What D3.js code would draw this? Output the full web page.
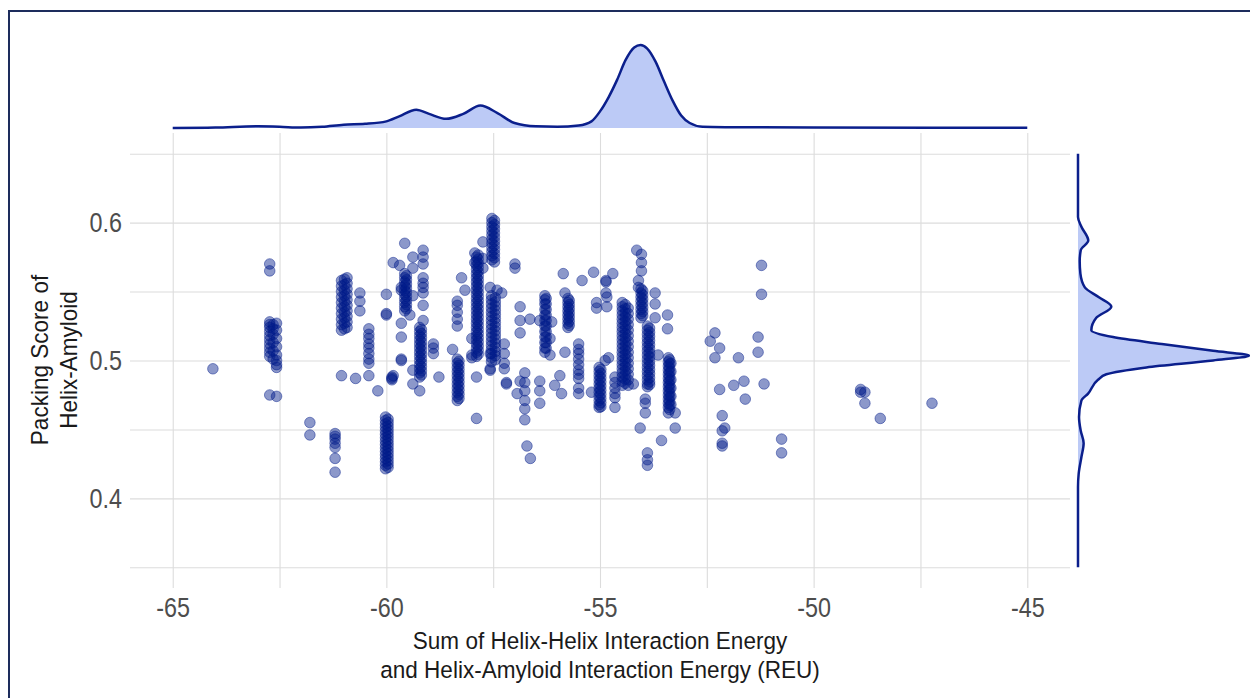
<!DOCTYPE html>
<html>
<head>
<meta charset="utf-8">
<script src="https://cdn.jsdelivr.net/npm/d3@7"></script>
<style>
  body { margin: 0; background: #fff; }
  svg { display: block; }
  text { font-family: "Liberation Sans", Arial, sans-serif; }
</style>
</head>
<body>
<svg id="chart"></svg>
<script>
const WIDTH = 1250;
const HEIGHT = 698;
const NARROW_TICK = 0.82;  // horizontal squeeze to imitate a narrow face
const NARROW_TITLE = 0.92;

// axis breaks
const X_TICKS = [-65, -60, -55, -50, -45];
const X_GRID = [-65, -62.5, -60, -57.5, -55, -52.5, -50, -47.5, -45];
const Y_TICKS = [0.4, 0.5, 0.6];
const Y_GRID = [0.35, 0.4, 0.45, 0.5, 0.55, 0.6, 0.65];

// scatter points, grouped by energy value: [energy, [packing scores]]
const columns = [
  [-64.06, [0.494]],
  [-62.73, [0.570, 0.565, 0.528, 0.526, 0.524, 0.521, 0.518, 0.515, 0.512, 0.509, 0.506, 0.503, 0.475]],
  [-62.65, [0.526, 0.523, 0.519, 0.513, 0.507, 0.501]],
  [-62.57, [0.527, 0.522, 0.516, 0.510, 0.504, 0.500, 0.497, 0.495, 0.474]],
  [-61.79, [0.455, 0.446]],
  [-61.2, [0.447, 0.445, 0.443, 0.440, 0.437, 0.429, 0.419]],
  [-61.05, [0.558, 0.554, 0.550, 0.546, 0.542, 0.538, 0.534, 0.530, 0.526, 0.522, 0.489]],
  [-60.98, [0.559, 0.555, 0.551, 0.547, 0.543, 0.539, 0.535, 0.531, 0.527, 0.523]],
  [-60.92, [0.560, 0.556, 0.552, 0.548, 0.544, 0.540, 0.536, 0.532, 0.528, 0.524]],
  [-60.72, [0.487]],
  [-60.62, [0.549, 0.543, 0.536]],
  [-60.41, [0.523, 0.519, 0.516, 0.512, 0.509, 0.505, 0.501, 0.498, 0.489]],
  [-60.2, [0.478]],
  [-60.02, [0.459, 0.4565, 0.454, 0.4515, 0.449, 0.4465, 0.444, 0.4415, 0.439, 0.4365, 0.434, 0.4315, 0.429, 0.4265, 0.424, 0.4215]],
  [-59.96, [0.4575, 0.455, 0.4525, 0.450, 0.4475, 0.445, 0.4425, 0.440, 0.4375, 0.435, 0.4325, 0.430, 0.4275, 0.425, 0.4225]],
  [-60.0, [0.548, 0.534, 0.533]],
  [-59.87, [0.488, 0.487, 0.486]],
  [-59.84, [0.571, 0.489]],
  [-59.69, [0.569]],
  [-59.65, [0.553, 0.551, 0.527, 0.517, 0.501, 0.500]],
  [-59.57, [0.585, 0.563, 0.560, 0.557, 0.554, 0.551, 0.548, 0.545, 0.542, 0.539, 0.536]],
  [-59.53, [0.5615, 0.5585, 0.5555, 0.5525, 0.5495, 0.5465, 0.5435, 0.5405, 0.5375]],
  [-59.45, [0.533]],
  [-59.38, [0.575, 0.567, 0.547, 0.493, 0.483]],
  [-59.14, [0.580, 0.575, 0.570, 0.560, 0.556, 0.553, 0.549, 0.540, 0.529]],
  [-59.22, [0.524, 0.521, 0.518, 0.515, 0.512, 0.509, 0.506, 0.503, 0.500, 0.497, 0.494, 0.491, 0.488, 0.478]],
  [-59.18, [0.5225, 0.5195, 0.5165, 0.5135, 0.5105, 0.5075, 0.5045, 0.5015, 0.4985, 0.4955, 0.4925, 0.4895]],
  [-58.9, [0.512, 0.509, 0.505]],
  [-58.77, [0.488]],
  [-58.45, [0.508]],
  [-58.34, [0.543, 0.540, 0.535, 0.530, 0.525, 0.501, 0.498, 0.495, 0.492, 0.489, 0.486, 0.483, 0.480, 0.477, 0.474, 0.471]],
  [-58.3, [0.4995, 0.4965, 0.4935, 0.4905, 0.4875, 0.4845, 0.4815, 0.4785, 0.4755, 0.4725]],
  [-58.24, [0.560]],
  [-58.16, [0.551]],
  [-58.0, [0.516, 0.504, 0.502]],
  [-57.93, [0.571, 0.578]],
  [-57.89, [0.575, 0.572, 0.569, 0.566, 0.563, 0.560, 0.557, 0.554, 0.551, 0.548, 0.545, 0.542, 0.539, 0.536, 0.533, 0.530, 0.527, 0.524, 0.521, 0.518, 0.515, 0.512, 0.509, 0.506, 0.503, 0.488, 0.458]],
  [-57.85, [0.5765, 0.5735, 0.5705, 0.5675, 0.5645, 0.5615, 0.5585, 0.5555, 0.5525, 0.5495, 0.5465, 0.5435, 0.5405, 0.5375, 0.5345, 0.5315, 0.5285, 0.5255, 0.5225, 0.5195, 0.5165, 0.5135, 0.5105, 0.5075, 0.5045]],
  [-57.74, [0.586, 0.574, 0.567]],
  [-57.53, [0.603, 0.600, 0.597, 0.594, 0.591, 0.588, 0.585, 0.582, 0.579, 0.576, 0.573]],
  [-57.47, [0.6015, 0.5985, 0.5955, 0.5925, 0.5895, 0.5865, 0.5835, 0.5805, 0.5775, 0.5745, 0.5715]],
  [-57.54, [0.547, 0.544, 0.541, 0.538, 0.535, 0.532, 0.529, 0.526, 0.523, 0.520, 0.517, 0.514, 0.511, 0.508, 0.505, 0.502, 0.499]],
  [-57.45, [0.5455, 0.5425, 0.5395, 0.5365, 0.5335, 0.5305, 0.5275, 0.5245, 0.5215, 0.5185, 0.5155, 0.5125, 0.5095, 0.5065, 0.5035, 0.5005]],
  [-57.57, [0.553, 0.505, 0.494, 0.493]],
  [-57.41, [0.551]],
  [-57.3, [0.549]],
  [-57.24, [0.512, 0.505, 0.498, 0.494]],
  [-57.19, [0.484, 0.483]],
  [-56.99, [0.570, 0.567]],
  [-56.87, [0.539, 0.529, 0.520, 0.485]],
  [-56.94, [0.476]],
  [-56.64, [0.530]],
  [-56.76, [0.491, 0.484, 0.478, 0.471, 0.465, 0.457]],
  [-56.71, [0.438]],
  [-56.63, [0.429]],
  [-56.41, [0.529, 0.485, 0.478, 0.469]],
  [-56.29, [0.547, 0.544, 0.541, 0.537, 0.533, 0.529, 0.525, 0.521, 0.517, 0.513, 0.509, 0.506]],
  [-56.26, [0.545, 0.541, 0.537, 0.533, 0.529, 0.525, 0.521, 0.517, 0.513, 0.509]],
  [-56.17, [0.516, 0.504]],
  [-56.13, [0.528]],
  [-56.06, [0.482]],
  [-55.94, [0.489]],
  [-55.9, [0.476]],
  [-55.86, [0.563]],
  [-55.82, [0.549, 0.506]],
  [-55.75, [0.545, 0.542, 0.539, 0.536, 0.533, 0.530, 0.527, 0.524]],
  [-55.72, [0.5435, 0.5405, 0.5375, 0.5345, 0.5315, 0.5285, 0.5255]],
  [-55.5, [0.512, 0.508, 0.505, 0.501, 0.497, 0.493, 0.490, 0.487, 0.480, 0.476]],
  [-55.42, [0.558]],
  [-55.2, [0.477]],
  [-55.15, [0.564]],
  [-55.08, [0.542, 0.538]],
  [-55.02, [0.495, 0.492, 0.489, 0.486, 0.483, 0.480, 0.477, 0.474, 0.471, 0.468, 0.466]],
  [-54.98, [0.4935, 0.4905, 0.4875, 0.4845, 0.4815, 0.4785, 0.4755, 0.4725, 0.4695, 0.4665]],
  [-54.84, [0.546, 0.539]],
  [-54.88, [0.500]],
  [-54.8, [0.502]],
  [-54.86, [0.558, 0.557, 0.549]],
  [-54.7, [0.563]],
  [-54.65, [0.488, 0.484, 0.480, 0.476, 0.473, 0.466]],
  [-54.48, [0.542, 0.539, 0.536, 0.533, 0.530, 0.527, 0.524, 0.521, 0.518, 0.515, 0.512, 0.509, 0.506, 0.503, 0.500, 0.497, 0.494, 0.491, 0.488, 0.485, 0.482]],
  [-54.41, [0.5405, 0.5375, 0.5345, 0.5315, 0.5285, 0.5255, 0.5225, 0.5195, 0.5165, 0.5135, 0.5105, 0.5075, 0.5045, 0.5015, 0.4985, 0.4955, 0.4925, 0.4895, 0.4865, 0.4835]],
  [-54.34, [0.538, 0.534, 0.530, 0.526, 0.522, 0.518, 0.514, 0.510, 0.506, 0.502, 0.498, 0.494, 0.490, 0.486, 0.482]],
  [-54.22, [0.483]],
  [-54.14, [0.580]],
  [-54.1, [0.558, 0.553]],
  [-54.06, [0.451]],
  [-54.03, [0.577, 0.571, 0.565]],
  [-54.04, [0.552, 0.549, 0.546, 0.543, 0.540, 0.537, 0.534, 0.531]],
  [-54.0, [0.5505, 0.5475, 0.5445, 0.5415, 0.5385, 0.5355, 0.5325]],
  [-53.94, [0.472, 0.469, 0.462]],
  [-53.89, [0.525, 0.522, 0.519, 0.516, 0.513, 0.510, 0.507, 0.504, 0.501, 0.498, 0.495, 0.492, 0.489, 0.486, 0.483, 0.481]],
  [-53.84, [0.5235, 0.5205, 0.5175, 0.5145, 0.5115, 0.5085, 0.5055, 0.5025, 0.4995, 0.4965, 0.4935, 0.4905, 0.4875, 0.4845, 0.4825]],
  [-53.89, [0.433, 0.428, 0.424]],
  [-53.71, [0.549, 0.541, 0.531]],
  [-53.64, [0.504]],
  [-53.56, [0.442]],
  [-53.42, [0.533, 0.523]],
  [-53.4, [0.502, 0.499, 0.496, 0.493, 0.490, 0.487, 0.484, 0.481, 0.478, 0.475, 0.472, 0.469, 0.466, 0.462]],
  [-53.37, [0.5005, 0.4975, 0.4945, 0.4915, 0.4885, 0.4855, 0.4825, 0.4795, 0.4765, 0.4735, 0.4705, 0.4675, 0.4645]],
  [-53.34, [0.498, 0.492, 0.486, 0.480, 0.474, 0.468]],
  [-53.24, [0.462, 0.451]],
  [-52.42, [0.514]],
  [-52.31, [0.520, 0.502]],
  [-52.2, [0.509, 0.479]],
  [-52.14, [0.460, 0.449, 0.440, 0.438]],
  [-52.08, [0.451]],
  [-51.87, [0.482]],
  [-51.76, [0.502]],
  [-51.63, [0.485]],
  [-51.6, [0.472]],
  [-51.3, [0.517, 0.506]],
  [-51.22, [0.569, 0.548]],
  [-51.16, [0.483]],
  [-50.75, [0.443, 0.433]],
  [-48.9, [0.479, 0.477]],
  [-48.8, [0.477, 0.469]],
  [-48.44, [0.458]],
  [-47.23, [0.469]]
];

// top marginal density (relative height) read along energy
const topDensX = [-65, -64, -63, -62.5, -62, -61.5, -61, -60.5, -60, -59.7, -59.3, -59, -58.6, -58.2, -57.8, -57.4, -57, -56.5, -56, -55.5, -55.2, -55, -54.8, -54.6, -54.4, -54.2, -54.05, -53.9, -53.7, -53.5, -53.3, -53.1, -52.9, -52.6, -52, -50, -47, -45];
const topDensY = [0, 0.005, 0.02, 0.015, 0.005, 0.015, 0.04, 0.05, 0.08, 0.14, 0.22, 0.17, 0.11, 0.17, 0.27, 0.18, 0.06, 0.02, 0.015, 0.03, 0.08, 0.2, 0.37, 0.58, 0.82, 0.97, 1, 0.96, 0.8, 0.56, 0.33, 0.15, 0.06, 0.015, 0.01, 0.005, 0.004, 0.002];

// right marginal density (relative width) read along packing score
const rightDensY = [0.35, 0.408, 0.418, 0.43, 0.44, 0.449, 0.459, 0.471, 0.476, 0.486, 0.49, 0.495, 0.5, 0.5036, 0.507, 0.512, 0.517, 0.522, 0.531, 0.539, 0.546, 0.553, 0.563, 0.572, 0.58, 0.587, 0.597, 0.604, 0.65];
const rightDensV = [0, 0, 0.004, 0.02, 0.033, 0.016, 0.006, 0.02, 0.059, 0.117, 0.166, 0.4, 0.79, 1, 0.79, 0.49, 0.205, 0.078, 0.107, 0.195, 0.12, 0.04, 0.014, 0.01, 0.016, 0.06, 0.02, 0, 0];

const POINT_COLOR = "#001a8a";
const DENS_STROKE = "#0b1f8c";
const DENS_FILL = "#bccaf6";

const panel = { left: 130, right: 1070, top: 133, bottom: 588 };

const $svg = d3.select("#chart").attr("width", WIDTH).attr("height", HEIGHT);

const x = d3.scaleLinear().domain([-66, -44]).range([panel.left, panel.right]);
const y = d3.scaleLinear().domain([0.335, 0.665]).range([panel.bottom, panel.top]);
const topH = d3.scaleLinear().domain([0, 1]).range([128, 45]);
const rightW = d3.scaleLinear().domain([0, 1]).range([1078, 1249]);

// frame
$svg.append("rect")
  .attr("x", 9).attr("y", 11)
  .attr("width", 1270).attr("height", 720)
  .attr("fill", "none")
  .attr("stroke", "#1d2c5c")
  .attr("stroke-width", 2);

// grid
const gridX = $svg.append("g")
  .attr("transform", `translate(0,${panel.bottom})`)
  .call(d3.axisBottom(x).tickValues(X_GRID).tickSize(-(panel.bottom - panel.top)).tickFormat(""));
const gridY = $svg.append("g")
  .attr("transform", `translate(${panel.left},0)`)
  .call(d3.axisLeft(y).tickValues(Y_GRID).tickSize(-(panel.right - panel.left)).tickFormat(""));
[gridX, gridY].forEach(g => {
  g.select(".domain").remove();
  g.selectAll("line").attr("stroke", "#dcdcdc").attr("stroke-width", 1.1);
});

// tick labels
const axX = $svg.append("g")
  .attr("transform", `translate(0,${panel.bottom})`)
  .call(d3.axisBottom(x).tickValues(X_TICKS).tickSize(0).tickPadding(9).tickFormat(d => String(d)));
const axY = $svg.append("g")
  .attr("transform", `translate(${panel.left},0)`)
  .call(d3.axisLeft(y).tickValues(Y_TICKS).tickSize(0).tickPadding(9.8).tickFormat(d => String(d)));
[axX, axY].forEach(g => {
  g.select(".domain").remove();
  g.attr("font-family", null).attr("font-size", null);
  g.selectAll("text")
    .attr("fill", "#4d4d4d")
    .attr("transform", `scale(${NARROW_TICK},1)`)
    .style("font-size", "28.5px");
});

// points
const points = columns.flatMap(([e, ys]) => ys.map(p => ({ e, p })));
$svg.append("g")
  .selectAll("circle")
  .data(points)
  .enter()
  .append("circle")
  .attr("cx", d => x(d.e))
  .attr("cy", d => y(d.p))
  .attr("r", 5.3)
  .attr("fill", POINT_COLOR)
  .attr("fill-opacity", 0.45)
  .attr("stroke", POINT_COLOR)
  .attr("stroke-opacity", 0.45)
  .attr("stroke-width", 1);

// top density
const topData = topDensX.map((e, i) => [e, topDensY[i]]);
$svg.append("path")
  .datum(topData)
  .attr("fill", DENS_FILL)
  .attr("d", d3.area().x(d => x(d[0])).y0(topH(0)).y1(d => topH(d[1])).curve(d3.curveMonotoneX));
$svg.append("path")
  .datum(topData)
  .attr("fill", "none")
  .attr("stroke", DENS_STROKE)
  .attr("stroke-width", 2.5)
  .attr("d", d3.line().x(d => x(d[0])).y(d => topH(d[1])).curve(d3.curveMonotoneX));

// right density
const rightData = rightDensY.map((p, i) => [p, rightDensV[i]]);
$svg.append("path")
  .datum(rightData)
  .attr("fill", DENS_FILL)
  .attr("d", d3.area().y(d => y(d[0])).x0(rightW(0)).x1(d => rightW(d[1])).curve(d3.curveMonotoneY));
$svg.append("path")
  .datum(rightData)
  .attr("fill", "none")
  .attr("stroke", DENS_STROKE)
  .attr("stroke-width", 2.5)
  .attr("d", d3.line().y(d => y(d[0])).x(d => rightW(d[1])).curve(d3.curveMonotoneY));

// axis titles
const xTitle = $svg.append("text")
  .attr("transform", `translate(600,0) scale(${NARROW_TITLE},1)`)
  .attr("text-anchor", "middle")
  .attr("fill", "#1a1a1a")
  .style("font-size", "24.5px");
xTitle.append("tspan").attr("x", 0).attr("y", 649).text("Sum of Helix-Helix Interaction Energy");
xTitle.append("tspan").attr("x", 0).attr("y", 678).text("and Helix-Amyloid Interaction Energy (REU)");

const yTitle = $svg.append("text")
  .attr("transform", `translate(0,360) rotate(-90) scale(${NARROW_TITLE},1)`)
  .attr("text-anchor", "middle")
  .attr("fill", "#1a1a1a")
  .style("font-size", "24.5px");
yTitle.append("tspan").attr("x", 0).attr("y", 48).text("Packing Score of");
yTitle.append("tspan").attr("x", 0).attr("y", 77).text("Helix-Amyloid");
</script>
</body>
</html>
